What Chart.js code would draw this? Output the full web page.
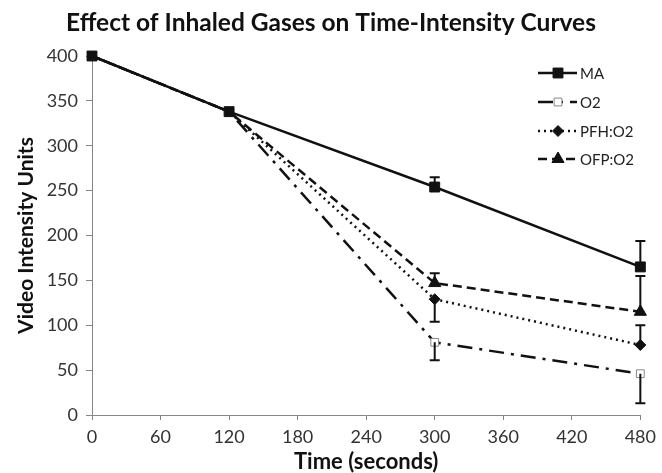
<!DOCTYPE html>
<html><head><meta charset="utf-8">
<script src="https://cdn.jsdelivr.net/npm/chart.js@4"></script>
<style>html,body{margin:0;padding:0;background:#fff}#wrap{width:662px;height:473px}</style>
</head><body><div id="wrap"><canvas id="c" width="662" height="473"></canvas></div>
<script>
const times = [0, 120, 300, 480];
const seriesNames = ['MA', 'O2', 'PFH:O2', 'OFP:O2'];
const maValues = [400, 338, 254, 165];
const o2Values = [400, 338, 81, 46];
const pfhValues = [400, 338, 129, 78];
const ofpValues = [400, 338, 147, 115];
// error bars: [plus, minus] per point
const maErr = [[0,0],[0,0],[11,0],[29,0]];
const o2Err = [[0,0],[0,0],[0,20],[0,33]];
const pfhErr = [[0,0],[0,0],[0,25],[22,0]];
const ofpErr = [[0,0],[0,0],[11,0],[40,0]];
const xTicks = [0, 60, 120, 180, 240, 300, 360, 420, 480];
const yTicks = [0, 50, 100, 150, 200, 250, 300, 350, 400];

const FONT = 'Lato, "Open Sans", sans-serif';
function pts(vals){ return times.map((t,i)=>({x:t,y:vals[i]})); }

const styles = [
  {dash:[], style:'rect', r:7, bg:'#111', bc:'#111', bw:1},
  {dash:[15,7,3,7], style:'rect', r:5.5, bg:'#fff', bc:'#888', bw:1},
  {dash:[2,4], style:'rectRot', r:5.5, bg:'#111', bc:'#111', bw:1},
  {dash:[9,5], style:'triangle', r:7, bg:'#111', bc:'#111', bw:1}
];
const values = [maValues, o2Values, pfhValues, ofpValues];
const errs = [maErr, o2Err, pfhErr, ofpErr];

const datasets = values.map((v,i)=>({
  label: seriesNames[i],
  data: pts(v),
  borderColor: '#111',
  borderWidth: 2.5,
  borderDash: styles[i].dash,
  pointStyle: styles[i].style,
  pointRadius: i===0 ? styles[i].r : times.map((t,j)=> j<2 ? 0 : styles[i].r),
  pointBackgroundColor: styles[i].bg,
  pointBorderColor: styles[i].bc,
  pointBorderWidth: styles[i].bw,
  fill: false,
  tension: 0,
  clip: false
}));

const errorBars = {
  id: 'errorBars',
  afterDatasetsDraw(chart){
    const {ctx, scales:{x,y}} = chart;
    ctx.save();
    ctx.strokeStyle = '#111'; ctx.lineWidth = 2; ctx.setLineDash([]);
    errs.forEach((e,i)=>{
      e.forEach((pm,j)=>{
        const px = x.getPixelForValue(times[j]);
        const v = values[i][j];
        [[pm[0],1],[pm[1],-1]].forEach(([d,s])=>{
          if(!d) return;
          const y0 = y.getPixelForValue(v), y1 = y.getPixelForValue(v + s*d);
          ctx.beginPath(); ctx.moveTo(px,y0); ctx.lineTo(px,y1);
          ctx.moveTo(px-5,y1); ctx.lineTo(px+5,y1); ctx.stroke();
        });
      });
    });
    ctx.restore();
  }
};

const legendPlugin = {
  id: 'customLegend',
  afterDraw(chart){
    const ctx = chart.ctx;
    ctx.save();
    const x0 = 538, x1 = 577, xm = 558, ys = [73, 102, 131, 159];
    styles.forEach((s,i)=>{
      const yy = ys[i];
      ctx.strokeStyle = '#111'; ctx.lineWidth = 2.5; ctx.setLineDash(s.dash);
      ctx.beginPath(); ctx.moveTo(x0,yy); ctx.lineTo(x1,yy); ctx.stroke();
      ctx.setLineDash([]);
      ctx.fillStyle = s.bg; ctx.strokeStyle = s.bc; ctx.lineWidth = s.bw;
      Chart.helpers.drawPoint(ctx, {pointStyle:s.style, radius:s.r, borderWidth:s.bw}, xm, yy);
      ctx.fillStyle = '#222'; ctx.font = '15px ' + FONT; ctx.textBaseline = 'middle'; ctx.textAlign='left';
      ctx.fillText(seriesNames[i], 580, yy+1);
    });
    ctx.restore();
  }
};

new Chart(document.getElementById('c'), {
  type: 'line',
  data: { datasets },
  plugins: [errorBars, legendPlugin],
  options: {
    responsive: false,
    animation: false,
    layout: { padding: { left: 16, right: 16, top: 0, bottom: 0 } },
    plugins: {
      legend: { display: false },
      tooltip: { enabled: false },
      title: { display: true, text: 'Effect of Inhaled Gases on Time-Intensity Curves',
        color: '#111', font: { family: FONT, size: 24.5, weight: 'bold', lineHeight: 1.2 }, padding: { top: 8, bottom: 18.6 } }
    },
    scales: {
      x: {
        type: 'linear', min: 0, max: 480,
        afterBuildTicks(ax){ ax.ticks = xTicks.map(v=>({value:v})); },
        afterFit(ax){ ax.height = 58; },
        grid: { display: true, drawOnChartArea: false, drawTicks: true, tickLength: 5, color: '#868686' },
        border: { color: '#868686', width: 1 },
        ticks: { color: '#333', font: { family: FONT, size: 18 }, padding: 6, maxRotation: 0 },
        title: { display: true, text: 'Time (seconds)', color: '#111', font: { family: FONT, size: 22, weight: 'bold', lineHeight: 1.0 }, padding: { top: 0, bottom: 0 } }
      },
      y: {
        min: 0, max: 400,
        afterBuildTicks(ax){ ax.ticks = yTicks.map(v=>({value:v})); },
        afterFit(ax){ ax.width = 76; },
        grid: { display: true, drawOnChartArea: false, drawTicks: true, tickLength: 6, color: '#868686' },
        border: { color: '#868686', width: 1 },
        ticks: { color: '#333', font: { family: FONT, size: 18 }, padding: 8 },
        title: { display: true, text: 'Video Intensity Units', color: '#111', font: { family: FONT, size: 21, weight: 'bold', lineHeight: 1.0 }, padding: { top: 0, bottom: 0 } }
      }
    }
  }
});
</script></body></html>
